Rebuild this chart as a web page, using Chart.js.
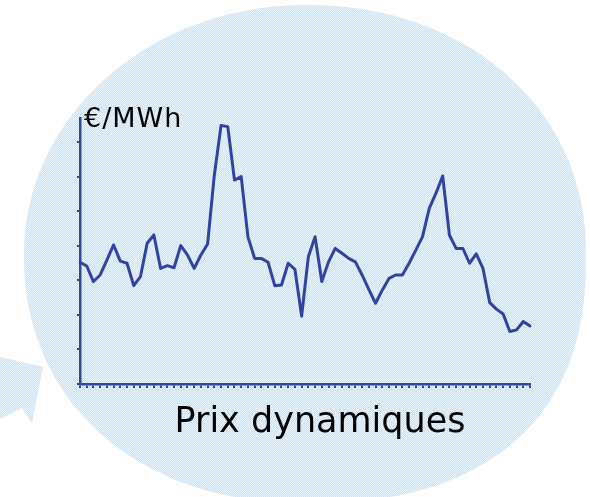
<!DOCTYPE html>
<html>
<head>
<meta charset="utf-8">
<script src="https://cdn.jsdelivr.net/npm/chart.js@4"></script>
<style>
  html, body { margin: 0; padding: 0; background: #fff; }
  #wrap { width: 590px; height: 497px; }
</style>
</head>
<body>
<div id="wrap"><canvas id="prixChart" width="590" height="497"></canvas></div>
<script>
// 68 periodes
var periodes = ['1','2','3','4','5','6','7','8','9','10','11','12','13','14','15','16','17',
    '18','19','20','21','22','23','24','25','26','27','28','29','30','31','32','33','34',
    '35','36','37','38','39','40','41','42','43','44','45','46','47','48','49','50','51',
    '52','53','54','55','56','57','58','59','60','61','62','63','64','65','66','67','68'];

// prix en €/MWh
var prix = [35.3, 34.2, 29.7, 31.6, 35.9, 40.3, 35.6, 35.0, 28.5, 31.1,
    40.8, 43.2, 33.5, 34.3, 33.7, 40.1, 37.4, 33.5, 37.4, 40.6,
    60.6, 74.9, 74.6, 59.1, 60.1, 42.7, 36.4, 36.4, 35.3, 28.5,
    28.7, 35.0, 33.2, 19.7, 36.9, 42.7, 29.7, 35.4, 39.3, 37.9,
    36.4, 35.4, 31.6, 27.4, 23.4, 27.2, 30.6, 31.6, 31.6, 35.0,
    38.8, 42.7, 50.9, 55.3, 60.3, 43.2, 39.3, 39.3, 35.0, 37.7,
    33.5, 23.6, 21.7, 20.3, 15.2, 15.7, 18.1, 16.8];

var yTicks = [0, 10, 20, 30, 40, 50, 60, 70];

var axisColor = '#3445a3';

// motif pointillé bleu clair
function makePattern(ctx) {
    var p = document.createElement('canvas');
    p.width = 2; p.height = 2;
    var pc = p.getContext('2d');
    pc.fillStyle = 'rgb(200,228,248)';
    pc.fillRect(0, 0, 2, 2);
    pc.fillStyle = 'rgb(228,243,253)';
    pc.fillRect(0, 0, 1, 1);
    pc.fillRect(1, 1, 1, 1);
    return ctx.createPattern(p, 'repeat');
}

// bulle : ellipse un peu renflée en bas à droite
function bubblePath(ctx, cx, cy, a, b) {
    ctx.beginPath();
    for (var k = 0; k <= 360; k++) {
        var t = k * Math.PI / 180;
        var c = Math.cos(t), s = Math.sin(t);
        var n = 2;
        if (c > 0 && s > 0) n = 2.4;        // bas droite
        else if (c <= 0 && s > 0) n = 2.15;  // bas gauche
        else if (c > 0 && s <= 0) n = 2.1;   // haut droite
        var x = cx + a * Math.sign(c) * Math.pow(Math.abs(c), 2 / n);
        var y = cy + b * Math.sign(s) * Math.pow(Math.abs(s), 2 / n);
        if (k === 0) ctx.moveTo(x, y); else ctx.lineTo(x, y);
    }
    ctx.closePath();
}

var decor = {
    id: 'decor',
    beforeDraw: function(chart) {
        var ctx = chart.ctx;
        ctx.save();
        ctx.fillStyle = '#fff';
        ctx.fillRect(0, 0, chart.width, chart.height);
        ctx.fillStyle = makePattern(ctx);
        // flèche
        ctx.beginPath();
        ctx.moveTo(0, 357);
        ctx.lineTo(43, 367);
        ctx.lineTo(32, 423);
        ctx.lineTo(22, 408);
        ctx.lineTo(0, 419);
        ctx.closePath();
        ctx.fill();
        bubblePath(ctx, 305, 254, 281, 249);
        ctx.fill();
        ctx.restore();
    },
    afterDraw: function(chart) {
        var ctx = chart.ctx;
        ctx.save();
        ctx.fillStyle = '#000';
        ctx.textBaseline = 'alphabetic';
        ctx.font = '27px "DejaVu Sans"';
        ctx.textAlign = 'left';
        ctx.letterSpacing = '1px';
        ctx.fillText('€/MWh', 84, 127);
        ctx.letterSpacing = '0px';
        ctx.font = '35px "DejaVu Sans"';
        ctx.textAlign = 'center';
        ctx.fillText('Prix dynamiques', 320, 432);
        ctx.restore();
    }
};

new Chart(document.getElementById('prixChart'), {
    type: 'line',
    data: {
        labels: periodes,
        datasets: [{
            data: prix,
            borderColor: '#3142a2',
            borderWidth: 3,
            borderJoinStyle: 'round',
            borderCapStyle: 'round',
            tension: 0,
            fill: false,
            pointRadius: 0,
            pointHoverRadius: 0
        }]
    },
    options: {
        responsive: false,
        animation: false,
        layout: { padding: { top: 118, right: 60, left: 0, bottom: 0 } },
        plugins: {
            legend: { display: false },
            title: { display: false },
            tooltip: { enabled: false }
        },
        scales: {
            x: {
                offset: false,
                afterFit: function(s) { s.height = 113; },
                ticks: { display: false, autoSkip: false },
                grid: { drawOnChartArea: false, drawTicks: true, tickLength: 4, color: axisColor, lineWidth: 2 },
                border: { color: axisColor, width: 2.5 }
            },
            y: {
                min: 0,
                max: 77.1,
                afterBuildTicks: function(s) { s.ticks = yTicks.map(function(v) { return { value: v }; }); },
                afterFit: function(s) { s.width = 80; },
                ticks: { display: false },
                grid: { drawOnChartArea: false, drawTicks: true, tickLength: 3, color: axisColor, lineWidth: 2 },
                border: { color: axisColor, width: 2.5 }
            }
        }
    },
    plugins: [decor]
});
</script>
</body>
</html>
